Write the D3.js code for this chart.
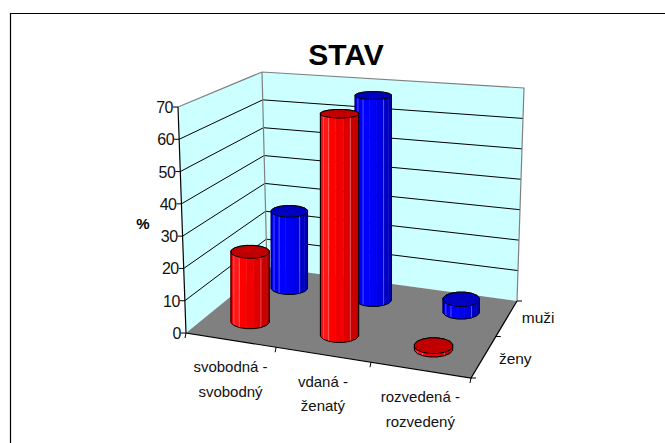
<!DOCTYPE html>
<html>
<head>
<meta charset="utf-8">
<script src="https://cdn.jsdelivr.net/npm/d3@7"></script>
<style>
html, body { margin:0; padding:0; background:#fff; }
svg { display:block; font-family:"Liberation Sans", Arial, sans-serif; }
</style>
</head>
<body>
<svg id="chart" width="665" height="443"></svg>
<script>
var categories = [["svobodná -","svobodný"],["vdaná -","ženatý"],["rozvedená -","rozvedený"]];
var seriesNames = ["ženy","muži"];
var zeny = [22, 68, 1];
var muzi = [26, 67.5, 4];
var yTicks = [0,10,20,30,40,50,60,70];

var svg = d3.select("#chart");

// outer frame, only top and left are in the picture
svg.append("path").attr("d","M10.5,443V13.5H665")
    .style("fill","none").style("stroke","black").style("stroke-width",1.2);

// corners of the 3D box on screen
var floorC = [[186,333],[471,378],[517,301],[267,267]];
var topC = [[178,107],[483,131],[524,88],[262,72]];

var xScale = d3.scaleBand().domain([0,1,2]).range([0,1]);
var depthScale = d3.scaleBand().domain([0,1]).range([0,1]);
var zScale = d3.scaleLinear().domain([0,70]).range([0,1]);

// homography of unit square -> quad
function quadMap(q){
    var x0=q[0][0],y0=q[0][1],x1=q[1][0],y1=q[1][1],x2=q[2][0],y2=q[2][1],x3=q[3][0],y3=q[3][1];
    var dx1=x1-x2,dx2=x3-x2,sx=x0-x1+x2-x3,dy1=y1-y2,dy2=y3-y2,sy=y0-y1+y2-y3;
    var den=dx1*dy2-dx2*dy1;
    var g=(sx*dy2-dx2*sy)/den,h=(dx1*sy-sx*dy1)/den;
    var a=x1-x0+g*x1,b=x3-x0+h*x3,c=x0,d=y1-y0+g*y1,e=y3-y0+h*y3,f=y0;
    return function(u,v){
        var w=g*u+h*v+1;
        return [(a*u+b*v+c)/w,(d*u+e*v+f)/w];
    };
}
var floorMap = quadMap(floorC), topMap = quadMap(topC);
function project(u,v,z){
    var p=floorMap(u,v), t=topMap(u,v);
    return [p[0]+(t[0]-p[0])*z, p[1]+(t[1]-p[1])*z];
}
var line = d3.line();

// walls
svg.append("path").attr("d",line([project(0,0,0),project(0,1,0),project(0,1,1),project(0,0,1)])+"Z").style("fill","#CCFFFF");
svg.append("path").attr("d",line([project(0,1,0),project(1,1,0),project(1,1,1),project(0,1,1)])+"Z").style("fill","#CCFFFF");
// floor
svg.append("path").attr("d",line([project(0,0,0),project(1,0,0),project(1,1,0),project(0,1,0)])+"Z").style("fill","#808080");

// gridlines
yTicks.slice(1,-1).forEach(function(t){
    var z=zScale(t);
    svg.append("path").attr("d",line([project(0,0,z),project(0,1,z),project(1,1,z)]))
        .style("fill","none").style("stroke","black").style("stroke-width",1);
});
// grey wall outline
svg.append("path").attr("d",line([project(0,0,1),project(0,1,1),project(1,1,1),project(1,1,0)]))
    .style("fill","none").style("stroke","#808080").style("stroke-width",1.2);
svg.append("path").attr("d",line([project(0,1,1),project(0,1,0)]))
    .style("fill","none").style("stroke","#808080").style("stroke-width",1.2);

// axes lines
svg.append("path").attr("d",line([project(0,0,1),project(0,0,0),project(1,0,0),project(1,1,0)]))
    .style("fill","none").style("stroke","black").style("stroke-width",1.2);

// y axis ticks + labels
yTicks.forEach(function(t){
    var p=project(0,0,zScale(t));
    svg.append("line").attr("x1",p[0]-5).attr("x2",p[0]).attr("y1",p[1]).attr("y2",p[1]).style("stroke","black");
    svg.append("text").text(t).attr("x",p[0]-5).attr("y",p[1]+6).attr("text-anchor","end")
        .style("font-size","16px").style("letter-spacing","-0.5px").style("fill","#111");
});
// category ticks
[0,1,2,3].forEach(function(i){
    var p=project(i/3,0,0);
    svg.append("line").attr("x1",p[0]).attr("x2",p[0]-1).attr("y1",p[1]).attr("y2",p[1]+5).style("stroke","black");
});
// depth ticks
[0,1,2].forEach(function(i){
    var p=project(1,i/2,0);
    svg.append("line").attr("x1",p[0]).attr("x2",p[0]+5).attr("y1",p[1]).attr("y2",p[1]).style("stroke","black");
});

// category labels
categories.forEach(function(c,i){
    var p=project(xScale(i)+xScale.bandwidth()/2,0,0);
    c.forEach(function(s,j){
        svg.append("text").text(s).attr("x",p[0]).attr("y",p[1]+32+j*24.5).attr("text-anchor","middle")
            .style("font-size","15px").style("fill","#111");
    });
});
// series labels
seriesNames.forEach(function(s,i){
    var p=project(1,depthScale(i)+depthScale.bandwidth()/2,0);
    svg.append("text").text(s).attr("x",p[0]+15).attr("y",p[1]+(i==0?8:5))
        .style("font-size","15.5px").style("fill","#111");
});
// axis title
svg.append("text").text("%").attr("x",143).attr("y",229).attr("text-anchor","middle")
    .style("font-size","15px").style("font-weight","bold");
// chart title
svg.append("text").text("STAV").attr("x",346).attr("y",65).attr("text-anchor","middle")
    .style("font-size","30px").style("font-weight","bold");

// cylinders, back row first
var sideRed = d3.scaleLinear().domain([0,.15,.3,.6,1]).range(["#F00000","#FF1818","#FF0000","#E80000","#B80000"]);
var sideBlue = d3.scaleLinear().domain([0,.3,.6,1]).range(["#0000E8","#0000FF","#0000F0","#0000A8"]);
var facets = 16;
// the caps flatten as they go up the picture
var capHeight = d3.scaleLinear().domain([95,347]).range([4,8]);

function cylinder(i,s,val,side,topFill,radX,shift){
    var u=xScale(i)+xScale.bandwidth()/2, v=depthScale(s)+depthScale.bandwidth()/2;
    var base=project(u,v,0), head=project(u,v,zScale(val));
    var cx=base[0]+shift;
    var ring=function(c){
        var ry=capHeight(c[1]);
        return d3.range(facets).map(function(k){
            var a=(k+.5)/facets*2*Math.PI;
            return [cx+radX*Math.cos(a), c[1]+ry*Math.sin(a)];
        });
    };
    var lo=ring(base), hi=ring(head);
    var g=svg.append("g");
    // front half of the ring
    d3.range(facets/2).forEach(function(k){
        var t=((lo[k][0]+lo[k+1][0])/2-(cx-radX))/(2*radX);
        g.append("path").attr("d",line([lo[k],lo[k+1],hi[k+1],hi[k]])+"Z")
            .style("fill",side(t)).style("stroke",side(t)).style("stroke-width",.5);
    });
    // pale facet lines
    [2,5,6].forEach(function(k){
        g.append("line").attr("x1",lo[k][0]).attr("x2",hi[k][0]).attr("y1",lo[k][1]).attr("y2",hi[k][1])
            .style("stroke","white").style("stroke-opacity",.3);
    });
    var hull=d3.polygonHull(lo.concat(hi));
    g.append("path").attr("d",line(hull)+"Z").style("fill","none").style("stroke","black").style("stroke-width",1);
    g.append("path").attr("d",line(hi)+"Z").style("fill",topFill).style("stroke","black").style("stroke-width",1);
}
[0,1,2].forEach(function(i){ cylinder(i,1,muzi[i],sideBlue,"#0000C0",18.5,0); });
[0,1,2].forEach(function(i){ cylinder(i,0,zeny[i],sideRed,"#C00000",19.5,-1.5); });
</script>
</body>
</html>
